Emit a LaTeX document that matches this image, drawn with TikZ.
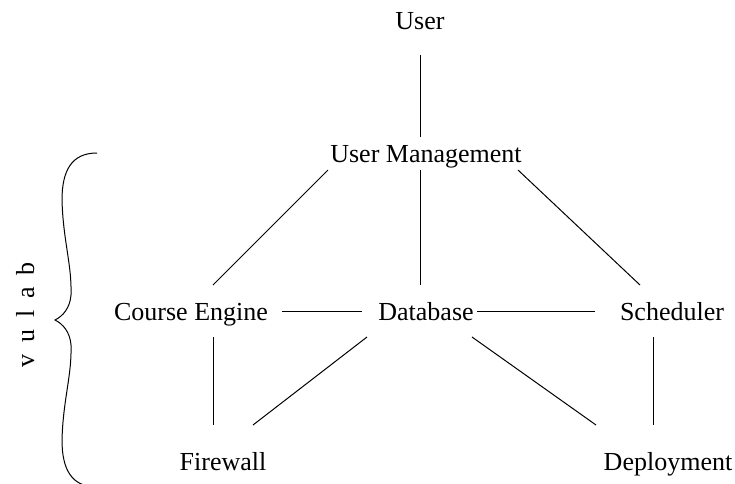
\documentclass[tikz,border=0pt]{standalone}
\usepackage{fontspec}
\setmainfont{Liberation Serif}
\usetikzlibrary{calc}
\tikzset{
  lbl/.style={inner sep=0pt, anchor=base, font=\fontsize{26}{31}\selectfont},
  link/.style={line width=1pt, line cap=butt},
}
\begin{document}
\begin{tikzpicture}[x=1pt, y=-1pt]
  \useasboundingbox (0,0) rectangle (735,483);

  % components
  \node[lbl] (user) at (420,29)  {User};
  \node[lbl] (um)   at (426,162) {User Management};
  \node[lbl] (ce)   at (191,320) {Course Engine};
  \node[lbl] (db)   at (426,320) {Database};
  \node[lbl] (sc)   at (672,320) {Scheduler};
  \node[lbl] (fw)   at (223,470) {Firewall};
  \node[lbl] (dp)   at (668,470) {Deployment};

  % links between components
  \draw[link] ($(user.base)+(0,26)$)   -- ($(um.base)+(-6,-25)$);
  \draw[link] ($(um.base)+(-98,8)$)    -- ($(ce.base)+(22,-35)$);
  \draw[link] ($(um.base)+(-6,8)$)     -- ($(db.base)+(-6,-35)$);
  \draw[link] ($(um.base)+(92,8)$)     -- ($(sc.base)+(-32,-35)$);
  \draw[link] ($(ce.base)+(91,-9)$)    -- ($(db.base)+(-64,-9)$);
  \draw[link] ($(db.base)+(51,-9)$)    -- ($(sc.base)+(-77,-9)$);
  \draw[link] ($(ce.base)+(22,17)$)    -- ($(fw.base)+(-10,-45)$);
  \draw[link] ($(db.base)+(-59,17)$)   -- ($(fw.base)+(30,-45)$);
  \draw[link] ($(db.base)+(46,17)$)    -- ($(dp.base)+(-72,-45)$);
  \draw[link] ($(sc.base)+(-19,17)$)   -- ($(dp.base)+(-15,-45)$);

  % brace grouping the vulab services
  \draw[line width=1pt]
    (97,153) .. controls (72,153) and (62,170) .. (62,200)
    .. controls (63,240) and (72,265) .. (71,295)
    .. controls (70,308) and (63,316) .. (55,320)
    .. controls (63,324) and (70,332) .. (71,345)
    .. controls (72,375) and (63,400) .. (62,440)
    .. controls (62,470) and (72,487) .. (97,487);
  \node[lbl, rotate=90] (vulab) at (34,315) {\spaceskip=12pt v u l a b};
\end{tikzpicture}
\end{document}
